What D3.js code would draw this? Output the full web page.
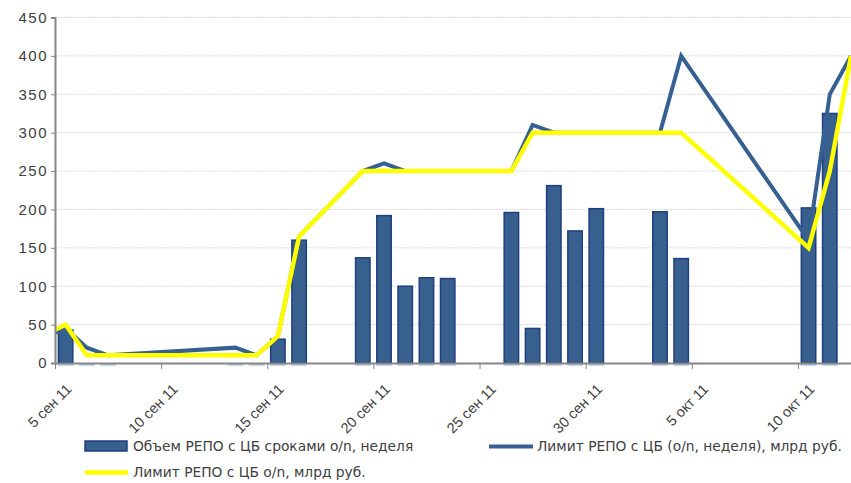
<!DOCTYPE html>
<html>
<head>
<meta charset="utf-8">
<script src="https://cdn.jsdelivr.net/npm/d3@7"></script>
<style>
  body { margin: 0; background: #fff; }
  svg { font-family: 'DejaVu Sans', sans-serif; }
</style>
</head>
<body>
<div id="chart"></div>
<script>
'use strict';

// trading days (lines skip the missing days, Excel "connect gaps")
var days = ['2011-09-02', '2011-09-05', '2011-09-06', '2011-09-07', '2011-09-13', '2011-09-14',
  '2011-09-15', '2011-09-16', '2011-09-19', '2011-09-20', '2011-09-21', '2011-09-22',
  '2011-09-23', '2011-09-26', '2011-09-27', '2011-09-28', '2011-09-29', '2011-09-30',
  '2011-10-03', '2011-10-04', '2011-10-10', '2011-10-11', '2011-10-12'];
var volume = [null, 43, 0, 0, 0, 0, 31, 160, 137, 192, 100, 111, 110, 196, 45, 231, 172, 201,
  197, 136, 202, 325, null];
var limitWeek = [10, 45, 20, 10, 20, 10, 35, 165, 250, 260, 250, 250, 250, 250, 310, 300, 300,
  300, 300, 400, 160, 350, 400];
var limitON = [10, 50, 10, 10, 10, 10, 35, 165, 250, 250, 250, 250, 250, 250, 300, 300, 300,
  300, 300, 300, 150, 250, 400];
var yTicks = [0, 50, 100, 150, 200, 250, 300, 350, 400, 450];
var xTickDays = ['2011-09-05', '2011-09-10', '2011-09-15', '2011-09-20', '2011-09-25',
  '2011-09-30', '2011-10-05', '2011-10-10'];
var monthNames = ['янв', 'фев', 'мар', 'апр', 'май', 'июн', 'июл', 'авг', 'сен', 'окт', 'ноя', 'дек'];
var seriesNames = ['Объем РЕПО с ЦБ сроками o/n, неделя',
  'Лимит РЕПО с ЦБ (o/n, неделя), млрд руб.',
  'Лимит РЕПО с ЦБ o/n, млрд руб.'];

var W = 851, H = 483;
var plotL = 55, plotR = 851, plotT = 17.5, plotB = 363;
var DAY = 864e5;
var textColor = '#404040';

var parse = d3.utcParse('%Y-%m-%d');
var rows = days.map(function(d, i) {
  return { date: parse(d), vol: volume[i], week: limitWeek[i], on: limitON[i] };
});

var x = d3.scaleUtc()
  .domain([parse('2011-09-05'), new Date(parse('2011-10-12').getTime() + DAY / 2)])
  .range([plotL, plotR]);
var y = d3.scaleLinear().domain([0, 450]).range([plotB, plotT]);

function cx(d) { return x(new Date(d.date.getTime() + DAY / 2)); }
var dayW = x(new Date(x.domain()[0].getTime() + DAY)) - plotL;
var barW = dayW * 0.75;

var svg = d3.select('#chart').append('svg')
  .attr('width', W)
  .attr('height', H);

svg.append('defs').append('clipPath').attr('id', 'plot')
  .append('rect')
  .attr('x', plotL).attr('y', 0)
  .attr('width', plotR - plotL).attr('height', plotB + 5);

// gridlines
svg.append('g')
  .selectAll('line')
  .data(yTicks.slice(1))
  .join('line')
  .attr('x1', plotL).attr('x2', plotR)
  .attr('y1', function(d) { return y(d); })
  .attr('y2', function(d) { return y(d); })
  .attr('stroke', '#dcdcdc')
  .attr('stroke-dasharray', '2,1');

var plot = svg.append('g').attr('clip-path', 'url(#plot)');

var barRows = rows.filter(function(d) { return d.vol !== null; });

// light shadow under the bars
plot.append('g')
  .selectAll('rect')
  .data(barRows)
  .join('rect')
  .attr('x', function(d) { return cx(d) - barW / 2; })
  .attr('y', plotB)
  .attr('width', barW)
  .attr('height', 3)
  .attr('fill', '#c5d4e8');

plot.append('g')
  .selectAll('rect')
  .data(barRows.filter(function(d) { return d.vol > 0; }))
  .join('rect')
  .attr('x', function(d) { return cx(d) - barW / 2 + 0.75; })
  .attr('y', function(d) { return y(d.vol); })
  .attr('width', barW - 1.5)
  .attr('height', function(d) { return plotB - y(d.vol); })
  .attr('fill', '#37608f')
  .attr('stroke', '#1f3f7f')
  .attr('stroke-width', 1.5);

var lineWeek = d3.line().x(cx).y(function(d) { return y(d.week); });
var lineON = d3.line().x(cx).y(function(d) { return y(d.on); });

plot.append('path')
  .datum(rows)
  .attr('d', lineWeek)
  .attr('fill', 'none')
  .attr('stroke', '#365f92')
  .attr('stroke-width', 4);

plot.append('path')
  .datum(rows)
  .attr('d', lineON)
  .attr('fill', 'none')
  .attr('stroke', '#ffff00')
  .attr('stroke-width', 4.5);

// y axis
var yAxis = svg.append('g')
  .attr('transform', 'translate(' + plotL + ',0)')
  .call(d3.axisLeft(y).tickValues(yTicks).tickSize(4).tickPadding(3));
yAxis.select('.domain').attr('stroke', '#868686').attr('stroke-width', 2);
yAxis.selectAll('.tick line').attr('stroke', '#868686');
yAxis.selectAll('.tick text')
  .attr('fill', textColor)
  .style('font-size', '15px')
  .style('letter-spacing', '1.5px');

// x axis
var xAxis = svg.append('g')
  .attr('transform', 'translate(0,' + plotB + ')')
  .call(d3.axisBottom(x).tickValues(xTickDays.map(parse)).tickSize(6).tickSizeOuter(0)
    .tickFormat(function(d) {
      return d.getUTCDate() + ' ' + monthNames[d.getUTCMonth()] + ' ' + String(d.getUTCFullYear()).slice(2);
    }));
xAxis.select('.domain').attr('stroke', '#868686').attr('stroke-width', 2);
xAxis.selectAll('.tick line').attr('stroke', '#868686');
xAxis.selectAll('.tick text')
  .attr('fill', textColor)
  .style('font-size', '14.5px')
  .attr('text-anchor', 'end')
  .attr('dy', null)
  .attr('y', 0)
  .attr('transform', 'translate(17,27) rotate(-45)');

// legend
var legend = svg.append('g').style('font-size', '13.8px').attr('fill', textColor);

legend.append('rect')
  .attr('x', 85).attr('y', 441).attr('width', 42).attr('height', 10)
  .attr('fill', '#37608f').attr('stroke', '#1f3f7f').attr('stroke-width', 1.5);
legend.append('text').attr('x', 133).attr('y', 451).text(seriesNames[0]);

legend.append('line')
  .attr('x1', 489).attr('x2', 533).attr('y1', 446.5).attr('y2', 446.5)
  .attr('stroke', '#365f92').attr('stroke-width', 4);
legend.append('text').attr('x', 537).attr('y', 451).text(seriesNames[1]);

legend.append('line')
  .attr('x1', 85).attr('x2', 128).attr('y1', 472.5).attr('y2', 472.5)
  .attr('stroke', '#ffff00').attr('stroke-width', 4.5);
legend.append('text').attr('x', 133).attr('y', 477).text(seriesNames[2]);
</script>
</body>
</html>
